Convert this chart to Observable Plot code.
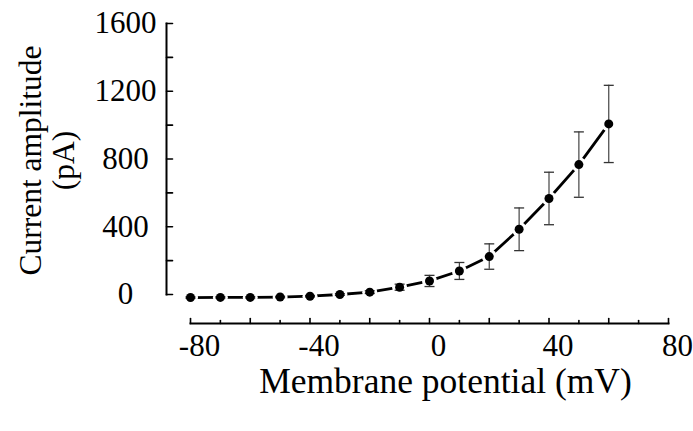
<!DOCTYPE html>
<html>
<head>
<meta charset="utf-8">
<script src="https://cdn.jsdelivr.net/npm/d3@7"></script>
<script src="https://cdn.jsdelivr.net/npm/@observablehq/plot@0.6"></script>
<style>
  html, body { margin: 0; padding: 0; background: #fff; }
  #chart svg { display: block; }
</style>
</head>
<body>
<div id="chart"></div>
<script>
// Membrane potential (mV)
const voltage = [-80, -70, -60, -50, -40, -30, -20, -10, 0, 10, 20, 30, 40, 50, 60];
// Mean current amplitude (pA)
const current = [-18, -17, -17, -15, -10, 0, 14, 43, 80, 139, 224, 385, 567, 767, 1007];
// Error (pA)
const errorBar = [4, 4, 4, 4, 4, 5, 8, 18, 33, 50, 75, 126, 155, 193, 228];

const xTickLabels = [-80, -40, 0, 40, 80];
const xMajorTicks = [-80, -60, -40, -20, 0, 20, 40, 60, 80];
const xMinorTicks = [-70, -50, -30, -10, 10, 30, 50, 70];
const yTickLabels = [0, 400, 800, 1200, 1600];
const yTicks = [0, 200, 400, 600, 800, 1000, 1200, 1400, 1600];

const xLabel = "Membrane potential (mV)";
const yLabel = "Current amplitude\n(pA)";

const data = voltage.map((v, i) => ({v, c: current[i], lo: current[i] - errorBar[i], hi: current[i] + errorBar[i]}));

const capSymbol = {
  draw(context, size) {
    const w = Math.sqrt(size / Math.PI);
    context.moveTo(-w, 0);
    context.lineTo(w, 0);
  }
};
// plain tick stroke for inward-pointing axis ticks
const tickShape = {
  draw(context, l) {
    context.moveTo(0, 0);
    context.lineTo(0, -l);
  }
};

const font = "Liberation Serif, Times New Roman, serif";
const plain = d => `${d}`;

const chart = Plot.plot({
  width: 693,
  height: 431,
  marginLeft: 166,
  marginRight: 25,
  marginTop: 23,
  marginBottom: 108,
  style: {fontFamily: font, color: "#000", background: "#fff"},
  x: {domain: [-80, 80], range: [190, 668]},
  y: {domain: [0, 1600], range: [294, 23]},
  marks: [
    // axis lines
    Plot.frame({anchor: "left", insetBottom: 29, strokeWidth: 2}),
    Plot.frame({anchor: "bottom", insetLeft: 24, strokeWidth: 2}),
    // x ticks (inward: pointing up from the bottom axis line)
    Plot.vector(xMajorTicks, {x: d => d, frameAnchor: "bottom", rotate: 0, length: 5, anchor: "start", shape: tickShape, stroke: "#000", strokeWidth: 1.6}),
    Plot.vector(xMinorTicks, {x: d => d, frameAnchor: "bottom", rotate: 0, length: 3, anchor: "start", shape: tickShape, stroke: "#000", strokeWidth: 1.6}),
    Plot.axisX(xTickLabels, {anchor: "bottom", tickSize: 0, tickPadding: 10, dx: 9, fontSize: 31, tickFormat: plain, label: null}),
    // y ticks (inward: pointing right from the left axis line)
    Plot.vector(yTicks, {y: d => d, frameAnchor: "left", rotate: 90, length: 6, anchor: "start", shape: tickShape, stroke: "#000", strokeWidth: 1.6}),
    Plot.axisY(yTickLabels, {anchor: "left", tickSize: 0, tickPadding: 41, textAnchor: "middle", fontSize: 31, tickFormat: plain, label: null}),
    // axis titles
    Plot.text([xLabel], {frameAnchor: "bottom", dx: 28, dy: 58, fontSize: 35.5, lineAnchor: "middle", textAnchor: "middle", fill: "#000"}),
    Plot.text([yLabel], {frameAnchor: "left", dx: -120, dy: -13, rotate: -90, fontSize: 31.5, lineHeight: 1.05, lineAnchor: "middle", textAnchor: "middle", fill: "#000"}),
    // data line
    Plot.line(data, {x: "v", y: "c", stroke: "#000", strokeWidth: 2.8}),
    // white halo around markers
    Plot.dot(data, {x: "v", y: "c", r: 7.5, fill: "#fff", stroke: null}),
    // error bars
    Plot.ruleX(data, {x: "v", y1: "lo", y2: "hi", stroke: "#444", strokeWidth: 1.2}),
    Plot.dot(data, {x: "v", y: "hi", symbol: capSymbol, r: 5, stroke: "#333", strokeWidth: 1.3, fill: "none"}),
    Plot.dot(data, {x: "v", y: "lo", symbol: capSymbol, r: 5, stroke: "#333", strokeWidth: 1.3, fill: "none"}),
    // markers
    Plot.dot(data, {x: "v", y: "c", r: 4.5, fill: "#000", stroke: null})
  ]
});

document.getElementById("chart").appendChild(chart);
</script>
</body>
</html>
